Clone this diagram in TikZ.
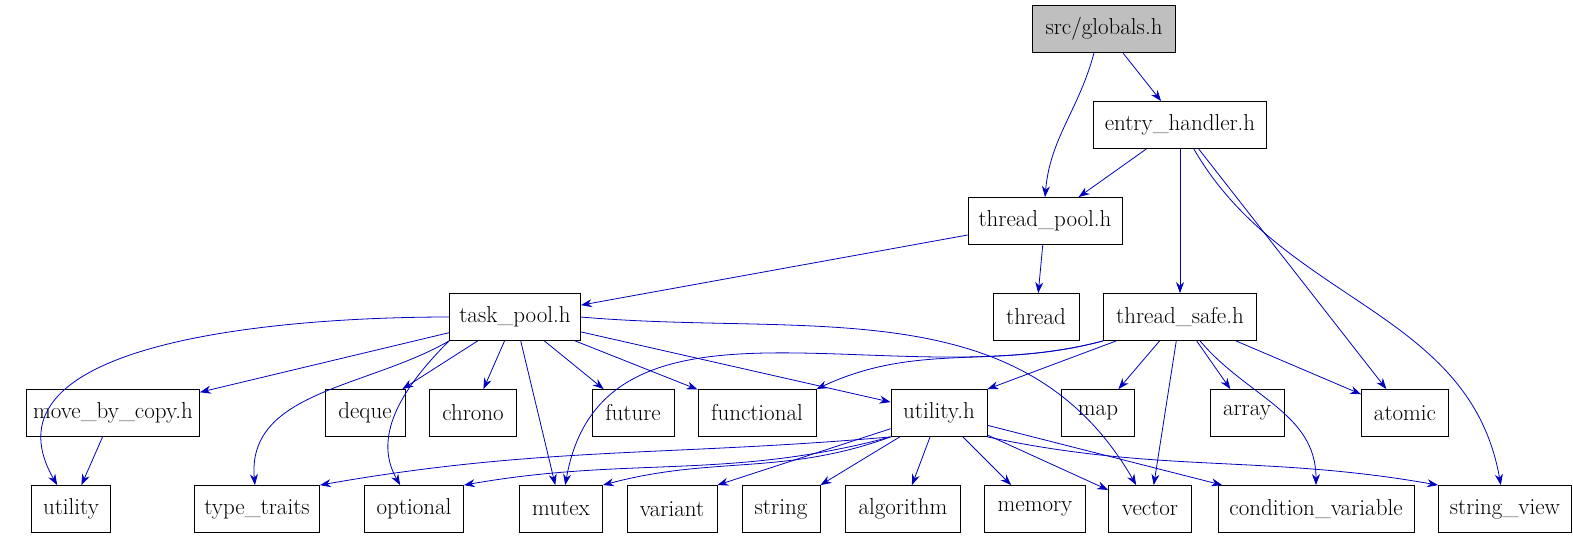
\documentclass[tikz,border=0pt]{standalone}
\usetikzlibrary{arrows.meta}
\begin{document}
\begin{tikzpicture}[x=1pt,y=-1pt,
 box/.style={draw,thick,minimum height=47pt,inner sep=0pt,font=\fontsize{23}{25}\selectfont},
 e/.style={draw=blue!75!black,thick,-{Stealth[length=11pt,width=8pt]}}]
\useasboundingbox (0,0) rectangle (1573,539);
\def\B#1#2#3#4#5{\node[box,minimum width=#4pt] (#1) at (#2,#3) {#5};}
\node[box,minimum width=143pt,fill=black!25] (g) at (1104,29) {src/globals.h};
\B{eh}{1180}{125}{173}{entry\_handler.h}
\B{tp}{1045}{221}{154}{thread\_pool.h}
\B{tk}{515}{317}{131}{task\_pool.h}
\B{th}{1036}{317}{86}{thread}
\B{ts}{1180}{317}{153}{thread\_safe.h}
\B{mb}{113}{413}{173}{move\_by\_copy.h}
\B{dq}{365}{413}{80}{deque}
\B{ch}{473}{413}{87}{chrono}
\B{fu}{633}{413}{82}{future}
\B{fn}{757}{413}{118}{functional}
\B{uh}{939}{413}{96}{utility.h}
\B{mp}{1098}{413}{73}{map}
\B{ar}{1247}{413}{74}{array}
\B{at}{1405}{413}{87}{atomic}
\B{ut}{71}{509}{79}{utility}
\B{tt}{257}{509}{125}{type\_traits}
\B{op}{414}{509}{99}{optional}
\B{mu}{561}{509}{83}{mutex}
\B{va}{672}{509}{90}{variant}
\B{st}{781}{509}{78}{string}
\B{al}{903}{509}{115}{algorithm}
\B{me}{1035}{509}{101}{memory}
\B{ve}{1150}{509}{83}{vector}
\B{cv}{1316}{509}{196}{condition\_variable}
\B{sv}{1505}{509}{133}{string\_view}
\draw[e] (g.south) ++(-10,0) to[out=-105,in=85] (tp.north);
\draw[e] (g) -- (eh);
\draw[e] (eh) -- (tp);
\draw[e] (eh) -- (ts);
\draw[e] (eh) -- (at);
\draw[e] (eh) to[out=-60,in=100] (sv);
\draw[e] (tp) -- (tk);
\draw[e] (tp) -- (th);
\draw[e] (tk.west) to[out=180,in=120] (ut);
\draw[e] (tk) -- (mb);
\draw[e] (tk.south west) to[out=-150,in=95] (tt);
\draw[e] (tk.south west) to[out=-135,in=120] (op);
\draw[e] (tk) -- (dq);
\draw[e] (tk) -- (ch);
\draw[e] (tk) -- (mu);
\draw[e] (tk) -- (fu);
\draw[e] (tk) -- (fn);
\draw[e] (tk) -- (uh);
\draw[e] (tk.east) to[out=-5,in=120] (ve);
\draw[e] (mb) -- (ut);
\draw[e] (ts.south west) to[out=-165,in=25] (fn.north east);
\draw[e] (ts.south west) to[out=-165,in=80] (mu);
\draw[e] (ts) -- (uh.north east);
\draw[e] (ts) -- (mp);
\draw[e] (ts) -- (ve);
\draw[e] (ts) -- (ar);
\draw[e] (ts) to[out=-50,in=90] (cv);
\draw[e] (ts) -- (at);
\draw[e] (uh.south west) to[out=-175,in=10] (tt.north east);
\draw[e] (uh.south west) to[out=-165,in=10] (op.north east);
\draw[e] (uh.south west) to[out=-160,in=15] (mu.north east);
\draw[e] (uh) -- (va.north east);
\draw[e] (uh) -- (st);
\draw[e] (uh) -- (al);
\draw[e] (uh) -- (me);
\draw[e] (uh) -- (ve);
\draw[e] (uh) -- (cv);
\draw[e] (uh.south east) to[out=-12,in=170] (sv.north west);
\end{tikzpicture}
\end{document}
